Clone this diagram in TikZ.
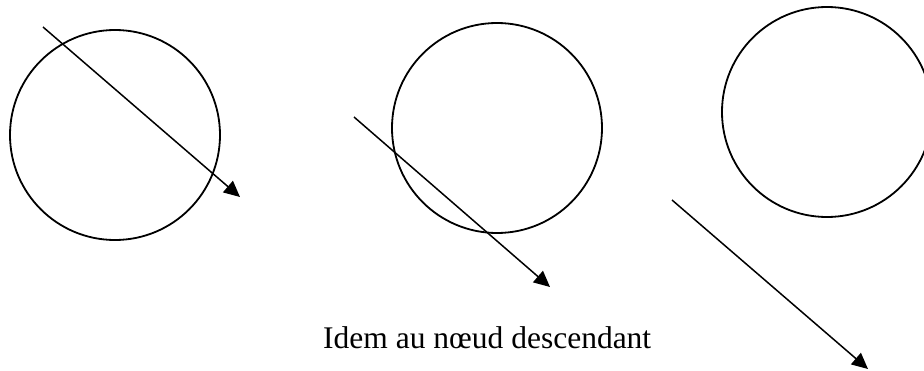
\documentclass[tikz,border=0pt]{standalone}
\usepackage{fontspec}
\setmainfont{Liberation Serif}
\usetikzlibrary{arrows.meta}
\begin{document}
\begin{tikzpicture}[x=1pt,y=-1pt,
  ring/.style={draw=black,line width=1.8pt,circle,minimum size=210pt,inner sep=0pt},
  ray/.style={draw=black,line width=1.5pt,-{Triangle[length=16pt,width=15pt]}},
  caption/.style={font=\fontsize{31.5}{36}\selectfont,inner sep=0pt,anchor=base west}]
\useasboundingbox (0,0) rectangle (924,370);
\node[ring] (c1) at (115,135) {};
\node[ring] (c2) at (497,128) {};
\node[ring] (c3) at (827,112) {};
\coordinate (a1s) at (43,27);
\coordinate (a1e) at (240,197);
\coordinate (a2s) at (354,117);
\coordinate (a2e) at (550,287);
\coordinate (a3s) at (672,200);
\coordinate (a3e) at (868,369);
\draw[ray] (a1s) -- (a1e);
\draw[ray] (a2s) -- (a2e);
\draw[ray] (a3s) -- (a3e);
\node[caption] (t) at (323,348) {Idem au nœud descendant};
\end{tikzpicture}
\end{document}
